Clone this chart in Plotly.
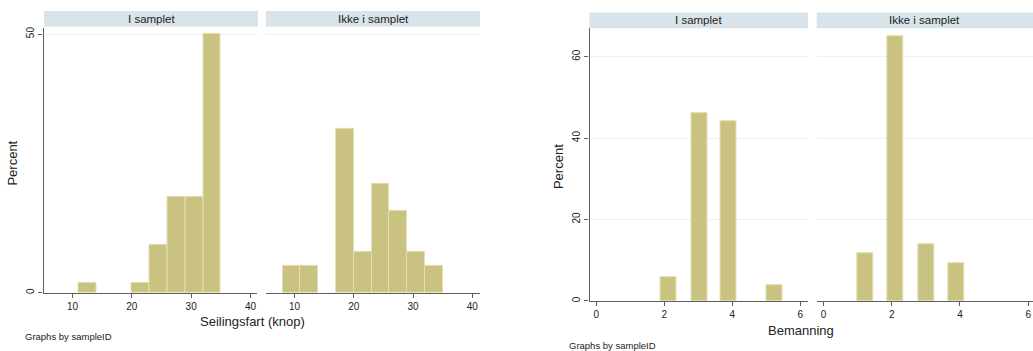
import plotly.graph_objects as go

W, H = 1033, 351

# --- Seilingsfart (knop): histogram bins of width 3 starting at 8 (None = empty bin) ---
speed_bin_centers = [9.5, 12.5, 15.5, 18.5, 21.5, 24.5, 27.5, 30.5, 33.5]
speed_bin_width = 3
speed_in_sample = [None, 1.85, None, None, 1.85, 9.26, 18.52, 18.52, 50.0]
speed_not_in_sample = [5.26, 5.26, None, 31.58, 7.89, 21.05, 15.79, 7.89, 5.26]

# --- Bemanning: narrow histogram bars ---
crew_bin_centers = [1.22, 2.11, 3.02, 3.90, 5.24]
crew_bar_width = 0.47
crew_in_sample = [None, 5.77, 46.15, 44.23, 3.85]
crew_not_in_sample = [11.63, 65.12, 13.95, 9.30, None]

panel_titles = ["I samplet", "Ikke i samplet"]
speed_xticks = [10, 20, 30, 40]
speed_yticks = [0, 50]
crew_xticks = [0, 2, 4, 6]
crew_yticks = [0, 20, 40, 60]

BAR = "#C9C281"
BAR_EDGE = "#E4DFB2"
AXIS = "#5E5E5E"
GRID = "#EAF1F3"
STRIP = "#D8E4EA"
FONT = "Liberation Sans, Arial, sans-serif"


def fx(px):
    return px / W


def fy(py):
    return 1 - py / H


fig = go.Figure()

fig.add_trace(go.Bar(x=speed_bin_centers, y=speed_in_sample, width=speed_bin_width,
                     marker=dict(color=BAR, line=dict(color=BAR_EDGE, width=1)),
                     xaxis="x", yaxis="y", showlegend=False))
fig.add_trace(go.Bar(x=speed_bin_centers, y=speed_not_in_sample, width=speed_bin_width,
                     marker=dict(color=BAR, line=dict(color=BAR_EDGE, width=1)),
                     xaxis="x2", yaxis="y2", showlegend=False))
fig.add_trace(go.Bar(x=crew_bin_centers, y=crew_in_sample, width=crew_bar_width,
                     marker=dict(color=BAR, line=dict(color=BAR_EDGE, width=1)),
                     xaxis="x3", yaxis="y3", showlegend=False))
fig.add_trace(go.Bar(x=crew_bin_centers, y=crew_not_in_sample, width=crew_bar_width,
                     marker=dict(color=BAR, line=dict(color=BAR_EDGE, width=1)),
                     xaxis="x4", yaxis="y4", showlegend=False))

tickfont = dict(family=FONT, size=10, color="#222")


def xaxis(dom, rng, ticks, anchor):
    return dict(domain=[fx(dom[0]), fx(dom[1])], range=rng, tickvals=ticks,
                showline=True, linecolor=AXIS, linewidth=1.2, ticks="outside",
                ticklen=4, tickcolor=AXIS, tickfont=tickfont, showgrid=False,
                zeroline=False, anchor=anchor, fixedrange=True)


def yaxis(dom, rng, ticks, anchor, show):
    return dict(domain=[fy(dom[1]), fy(dom[0])], range=rng, tickvals=ticks,
                showline=show, linecolor=AXIS, linewidth=1.2,
                ticks="outside" if show else "", ticklen=4, tickcolor=AXIS,
                showticklabels=show, tickangle=-90, tickfont=tickfont,
                showgrid=True, gridcolor=GRID, gridwidth=1,
                zeroline=False, anchor=anchor, fixedrange=True)


speed_y = (27, 293.3)
crew_y = (27.3, 301.7)

fig.update_layout(
    width=W, height=H,
    margin=dict(l=0, r=0, t=0, b=0),
    paper_bgcolor="white", plot_bgcolor="white",
    bargap=0,
    xaxis=xaxis((43.5, 257), [5.1, 41.1], speed_xticks, "y"),
    yaxis=yaxis(speed_y, [0, 51.2], speed_yticks, "x", True),
    xaxis2=xaxis((266, 480), [5.2, 41.3], speed_xticks, "y2"),
    yaxis2=yaxis(speed_y, [0, 51.2], speed_yticks, "x2", False),
    xaxis3=xaxis((589.5, 807.5), [-0.2, 6.21], crew_xticks, "y3"),
    yaxis3=yaxis(crew_y, [0, 67], crew_yticks, "x3", True),
    xaxis4=xaxis((817.3, 1033), [-0.18, 6.14], crew_xticks, "y4"),
    yaxis4=yaxis(crew_y, [0, 67], crew_yticks, "x4", False),
    font=dict(family=FONT, color="#222"),
)

# Panel header strips
strips = [
    (44, 258, 10, 26, panel_titles[0]),
    (266, 480, 10, 26, panel_titles[1]),
    (589.5, 808, 11.5, 27.3, panel_titles[0]),
    (816.7, 1033, 11.5, 27.3, panel_titles[1]),
]
for x0, x1, y0, y1, label in strips:
    fig.add_shape(type="rect", xref="paper", yref="paper",
                  x0=fx(x0), x1=fx(x1), y0=fy(y1), y1=fy(y0),
                  fillcolor=STRIP, line=dict(width=0), layer="below")
    fig.add_annotation(xref="paper", yref="paper", x=fx((x0 + x1) / 2),
                       y=fy((y0 + y1) / 2), text=label, showarrow=False,
                       font=dict(family=FONT, size=11.5, color="#222"),
                       xanchor="center", yanchor="middle")

# Axis titles and notes
texts = [
    (252, 322.5, "Seilingsfart (knop)", 13, 0, "center"),
    (801, 331.5, "Bemanning", 13, 0, "center"),
    (12.5, 163, "Percent", 13, -90, "center"),
    (558, 167, "Percent", 13, -90, "center"),
    (23, 337, "Graphs by sampleID", 9.5, 0, "left"),
    (567, 346, "Graphs by sampleID", 9.5, 0, "left"),
]
for x, y, t, s, ang, anc in texts:
    fig.add_annotation(xref="paper", yref="paper", x=fx(x), y=fy(y), text=t,
                       showarrow=False, textangle=ang, xanchor=anc, yanchor="middle",
                       font=dict(family=FONT, size=s, color="#222"))

fig.write_html("out.html")
